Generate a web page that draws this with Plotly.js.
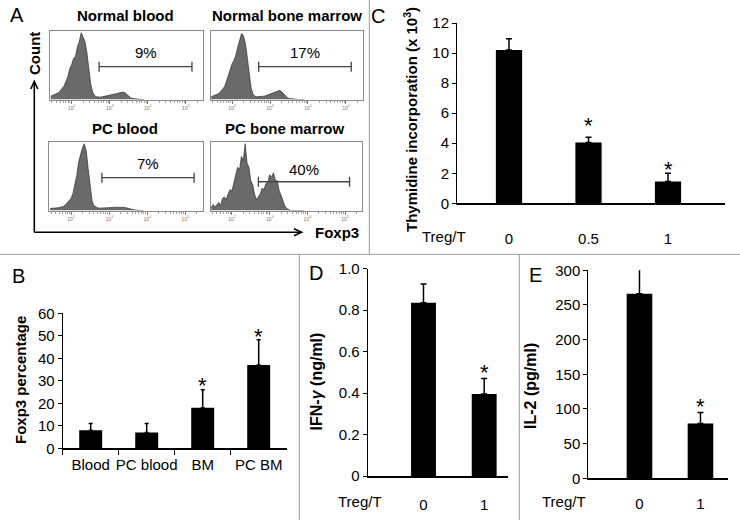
<!DOCTYPE html>
<html><head><meta charset="utf-8">
<script src="https://cdn.plot.ly/plotly-3.0.1.min.js"></script>
<style>html,body{margin:0;padding:0;background:#fff}#chart{width:740px;height:520px}</style>
</head><body><div id="chart"></div>
<script>
// ---------------- data ----------------
const histTitles = ['Normal blood', 'Normal bone marrow', 'PC blood', 'PC bone marrow'];
// Foxp3 fluorescence bins (log10 units)
const foxp3Bins = [1.45,1.50,1.55,1.60,1.65,1.70,1.75,1.80,1.85,1.90,1.95,2.00,2.05,2.10,2.15,2.20,2.25,2.30,2.35,2.40,2.45,2.50,2.55,2.60,2.65,2.70,2.75,2.80,2.85,2.90,2.95,3.00,3.05,3.10,3.15,3.20,3.25,3.30,3.35,3.40,3.45,3.50,3.55,3.60,3.65,3.70,3.75,3.80,3.85,3.90];
const normalBloodCounts = [5,6,7,8,10,13,16,20,27,34,46,52,61,64,78,86,99,93,86,69,42,23,11,6,4,3.5,3.5,4,4.5,5,5.5,6,6.5,7,8,9,10,10.5,11,10,7,4.5,2.5,1.5,1,0.5,0,0,0,0];
const normalMarrowCounts = [4,5,6,7,9,12,15,19,27,36,46,53,58,66,78,90,98,94,83,62,36,17,8,5,4,4,4,4.5,5,6,7,8,9,10.5,12,13,13.5,12,9,5.5,3,1.5,1,0.5,0,0,0,0,0,0];
const pcBloodCounts = [3,3,3.5,4,4,4.5,5,6,8,11,14,18,25,38,52,72,84,93,99,88,62,38,15,7,5,4,3.5,3.5,3.5,3.5,3.5,4,4,4.5,5,5,5.5,5.5,5,4.5,4,3,2,1.5,1,0.5,0,0,0,0];
const pcMarrowCounts = [4,9,5,8,12,7,18,20,16,25,31,29,43,53,64,60,80,74,99,70,64,44,38,24,16,21,25,33,31,40,42,53,49,56,45,44,30,23,13,7,3,1,0,0,0,0,0,0,0,0];
const gateStart = [2.72, 2.70, 2.81, 2.70];
const gateEnd = [5.16, 5.14, 5.23, 5.12];
const gateLabels = ['9%', '17%', '7%', '40%'];
const decadeTicks = [2, 3, 4, 5];
const decadeLabels = ['10<sup>2</sup>', '10<sup>3</sup>', '10<sup>4</sup>', '10<sup>5</sup>'];

const groupsB = ['Blood', 'PC blood', 'BM', 'PC BM'];
const foxp3Pct = [8, 7, 18, 37];
const foxp3Err = [3, 4, 8, 11.3];
const sigB = ['', '', '*', '*'];

const ratiosC = ['0', '0.5', '1'];
const thymidine = [10.2, 4.05, 1.45];
const thymidineErr = [0.75, 0.35, 0.55];
const sigC = ['', '*', '*'];

const ratiosDE = ['0', '1'];
const ifng = [0.835, 0.395];
const ifngErr = [0.09, 0.075];
const sigD = ['', '*'];
const ifngTicks = [0, 0.2, 0.4, 0.6, 0.8, 1.0];
const ifngTickText = ['0', '0.2', '0.4', '0.6', '0.8', '1.0'];

const il2 = [266, 79];
const il2Err = [37, 16];
const sigE = ['', '*'];

// ---------------- layout helpers ----------------
const fam = 'Liberation Sans, Arial, Helvetica, sans-serif';
const W = 740, H = 520;
const fx = p => p / W;
const fy = p => 1 - p / H;

const data = [];
const layout = {
  width: W, height: H,
  margin: {l: 0, r: 0, t: 0, b: 0, pad: 0},
  paper_bgcolor: '#fff', plot_bgcolor: '#fff',
  showlegend: false,
  font: {family: fam, size: 15, color: '#000'},
  annotations: [], shapes: []
};
const ann = o => layout.annotations.push(Object.assign({showarrow: false, xanchor: 'center', yanchor: 'middle'}, o));
const paperText = (x, y, text, size, extra) => ann(Object.assign({xref: 'paper', yref: 'paper', x: fx(x), y: fy(y), text: text, font: {size: size, family: fam, color: '#000'}}, extra || {}));
const paperLine = (x0, y0, x1, y1, color, w) => layout.shapes.push({type: 'line', xref: 'paper', yref: 'paper', x0: fx(x0), y0: fy(y0), x1: fx(x1), y1: fy(y1), line: {color: color, width: w}});

// ---------------- panel A: flow histograms ----------------
const minorVals = [];
for (let d = 1; d <= 5; d++) for (let k = 2; k <= 9; k++) { const v = d + Math.log10(k); if (v > 1.43 && v < 5.45) minorVals.push(v); }

const histCounts = [normalBloodCounts, normalMarrowCounts, pcBloodCounts, pcMarrowCounts];
const histBoxes = [
  {l: 50,    r: 203,   t: 31,  b: 99.5,  tx: 125.7, ty: 15,  gate: 0.479, shift: 14},
  {l: 210.5, r: 363,   t: 31,  b: 99.5,  tx: 286.7, ty: 15,  gate: 0.479, shift: 14},
  {l: 49.3,  r: 202.5, t: 142, b: 210.5, tx: 124.7, ty: 128, gate: 0.479, shift: 14},
  {l: 210.5, r: 362,   t: 142, b: 210.5, tx: 284.7, ty: 128, gate: 0.42,  shift: 12.5}
];
histBoxes.forEach((bx, i) => {
  const s = i === 0 ? '' : String(i + 1);
  data.push({type: 'scatter', mode: 'lines', x: foxp3Bins, y: histCounts[i], xaxis: 'x' + s, yaxis: 'y' + s,
    fill: 'tozeroy', fillcolor: '#6a6a6a', line: {color: '#2e2e2e', width: 0.7}, hoverinfo: 'skip'});
  layout['xaxis' + s] = {domain: [fx(bx.l), fx(bx.r)], anchor: 'y' + s, range: [1.43, 5.45],
    showline: true, mirror: true, linecolor: '#8a8a8a', linewidth: 1, showgrid: false, zeroline: false,
    ticks: 'outside', ticklen: 3, tickwidth: 0.8, tickcolor: '#555',
    tickmode: 'array', tickvals: decadeTicks, ticktext: decadeLabels, tickfont: {size: 5, family: fam, color: '#777'},
    minor: {tickmode: 'array', tickvals: minorVals, ticks: 'outside', ticklen: 2, tickwidth: 0.6, tickcolor: '#666', showgrid: false},
    fixedrange: true};
  layout['yaxis' + s] = {domain: [fy(bx.b), fy(bx.t)], anchor: 'x' + s, range: [0, 101.5],
    showline: true, mirror: true, linecolor: '#8a8a8a', linewidth: 1, showgrid: false, zeroline: false,
    ticks: '', showticklabels: false, fixedrange: true};
  const yd = 'y' + s + ' domain';
  const gc = {color: '#444', width: 1.3};
  layout.shapes.push({type: 'line', xref: 'x' + s, yref: yd, x0: gateStart[i], x1: gateEnd[i], y0: bx.gate, y1: bx.gate, line: gc});
  layout.shapes.push({type: 'line', xref: 'x' + s, yref: yd, x0: gateStart[i], x1: gateStart[i], y0: bx.gate - 0.073, y1: bx.gate + 0.073, line: gc});
  layout.shapes.push({type: 'line', xref: 'x' + s, yref: yd, x0: gateEnd[i], x1: gateEnd[i], y0: bx.gate - 0.073, y1: bx.gate + 0.073, line: gc});
  ann({xref: 'x' + s, yref: yd, x: (gateStart[i] + gateEnd[i]) / 2, y: bx.gate, yshift: bx.shift, text: gateLabels[i], font: {size: 15, family: fam, color: '#000'}});
  paperText(bx.tx, bx.ty, '<b>' + histTitles[i] + '</b>', 15);
});

// Count / Foxp3 arrows
paperLine(34.3, 232.3, 34.3, 82.5, '#000', 1.6);
paperLine(34.3, 232.3, 300.5, 232.3, '#000', 1.6);
layout.shapes.push({type: 'path', xref: 'paper', yref: 'paper',
  path: 'M ' + fx(30.8) + ',' + fy(89) + ' L ' + fx(34.3) + ',' + fy(81.5) + ' L ' + fx(37.8) + ',' + fy(89),
  line: {color: '#000', width: 1.6}});
layout.shapes.push({type: 'path', xref: 'paper', yref: 'paper',
  path: 'M ' + fx(294) + ',' + fy(228.8) + ' L ' + fx(301.7) + ',' + fy(232.3) + ' L ' + fx(294) + ',' + fy(235.8),
  line: {color: '#000', width: 1.6}});
paperText(35, 54, '<b>Count</b>', 15, {textangle: -90});
paperText(313, 232.3, '<b>Foxp3</b>', 15, {xanchor: 'left'});

// ---------------- bar panels B, C, D, E ----------------
const barPanels = [
  {n: 5, cats: groupsB, vals: foxp3Pct, err: foxp3Err, sig: sigB, lift: [10, 10, 10, 9],
   left: 62.7, right: 286.7, y0: 448.3, y1: 313.3, yr: [0, 60], dtick: 10, xr: [-0.5, 3.5], bw: 0.41, cap: 2,
   xticks: true, standoff: 2,
   title: '<b>Foxp3 percentage</b>', tx: 20, ty: 380, ts: 15, letter: 'B', lx: 18.3, ly: 275.5},
  {n: 6, cats: ratiosC, vals: thymidine, err: thymidineErr, sig: sigC, lift: [0, 18, 10],
   left: 457, right: 725, y0: 203.3, y1: 23, yr: [0, 12], dtick: 2, xr: [-0.654, 2.717], bw: 0.33, cap: 3,
   xticks: false, standoff: 21,
   title: '<b>Thymidine incorporation (x 10<sup>3</sup>)</b>', tx: 410, ty: 120, ts: 15, letter: 'C', lx: 378, ly: 15.5,
   treg: [444, 236.5]},
  {n: 7, cats: ratiosDE, vals: ifng, err: ifngErr, sig: sigD, lift: [0, 11.6],
   left: 367.7, right: 508.3, y0: 476, y1: 268.5, yr: [0, 1], tickvals: ifngTicks, ticktext: ifngTickText,
   xr: [-0.919, 1.397], bw: 0.41, cap: 3, xticks: false, standoff: 14,
   title: '<b>IFN-<i>γ</i> (ng/ml)</b>', tx: 316.7, ty: 381.7, ts: 16, letter: 'D', lx: 315.5, ly: 273.3,
   treg: [360, 501.7]},
  {n: 8, cats: ratiosDE, vals: il2, err: il2Err, sig: sigE, lift: [0, 11.6],
   left: 588.3, right: 728.3, y0: 478.3, y1: 270.3, yr: [0, 300], dtick: 50,
   xr: [-0.839, 1.456], bw: 0.42, cap: 3, xticks: false, standoff: 11,
   title: '<b>IL-2 (pg/ml)</b>', tx: 530, ty: 386, ts: 16, letter: 'E', lx: 535, ly: 274.5,
   treg: [564, 501.7]}
];
barPanels.forEach(p => {
  const s = String(p.n);
  data.push({type: 'bar', x: p.cats, y: p.vals, width: p.bw, xaxis: 'x' + s, yaxis: 'y' + s,
    marker: {color: '#000', line: {width: 0}},
    error_y: {type: 'data', symmetric: false, array: p.err, arrayminus: p.err.map(() => 0), color: '#000', thickness: 1.5, width: p.cap},
    hoverinfo: 'skip'});
  layout['xaxis' + s] = {domain: [fx(p.left), fx(p.right)], anchor: 'y' + s, type: 'category', range: p.xr,
    showline: true, linecolor: '#000', linewidth: 2, showgrid: false, zeroline: false,
    ticks: p.xticks ? 'outside' : '', tickson: 'boundaries', ticklen: 5, tickwidth: 1, tickcolor: '#000',
    tickangle: 0, tickfont: {size: 15, family: fam, color: '#000'}, ticklabelstandoff: p.standoff, fixedrange: true};
  const ya = {domain: [fy(p.y0), fy(p.y1)], anchor: 'x' + s, range: p.yr,
    showline: true, linecolor: '#000', linewidth: 1, showgrid: false, zeroline: false,
    ticks: 'outside', ticklen: 4, tickwidth: 1, tickcolor: '#000',
    tickfont: {size: 15, family: fam, color: '#000'}, fixedrange: true};
  if (p.tickvals) { ya.tickmode = 'array'; ya.tickvals = p.tickvals; ya.ticktext = p.ticktext; }
  else { ya.tickmode = 'linear'; ya.tick0 = 0; ya.dtick = p.dtick; }
  layout['yaxis' + s] = ya;
  p.sig.forEach((t, i) => {
    if (!t) return;
    // category axis: position the marker by category index
    ann({xref: 'x' + s, yref: 'y' + s, x: i, y: p.vals[i] + p.err[i], text: t,
      yshift: p.lift[i] - 6, font: {size: 22, family: fam, color: '#000'}});
  });
  paperText(p.tx, p.ty, p.title, p.ts, {textangle: -90});
  paperText(p.lx, p.ly, p.letter, 20);
  if (p.treg) paperText(p.treg[0], p.treg[1], 'Treg/T', 15);
});
paperText(16.7, 15, 'A', 20);

// ---------------- panel dividers ----------------
paperLine(0, 254.3, 740, 254.3, '#9a9a9a', 1);
paperLine(369.3, 0, 369.3, 254.3, '#9a9a9a', 1);
paperLine(299.3, 254.3, 299.3, 520, '#9a9a9a', 1);
paperLine(519.3, 254.3, 519.3, 520, '#9a9a9a', 1);

Plotly.newPlot('chart', data, layout, {staticPlot: true, displayModeBar: false});
</script>
</body></html>
